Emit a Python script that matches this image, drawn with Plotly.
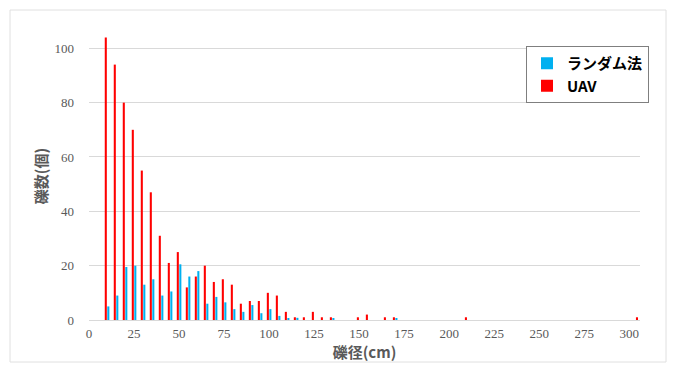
import plotly.graph_objects as go

# grain size classes (cm)
x_red = [10, 15, 20, 25, 30, 35, 40, 45, 50, 55, 60, 65, 70, 75, 80, 85, 90, 95, 100, 105,
         110, 115, 120, 125, 130, 135, 150, 155, 165, 170, 210, 305]
uav = [104, 94, 80, 70, 55, 47, 31, 21, 25, 12, 16, 20, 14, 15, 13, 6, 7, 7, 10, 9,
       3, 1, 1, 3, 1, 1, 1, 2, 1, 1, 1, 1]

x_blue = [10, 15, 20, 25, 30, 35, 40, 45, 50, 55, 60, 65, 70, 75, 80, 85, 90, 95, 100, 105,
          110, 115, 135, 170]
random_method = [5, 9, 19.5, 20, 13, 15, 9, 10.5, 20.5, 16, 18, 6, 8.5, 6.5, 4, 3, 5.5, 2.5, 4, 1.5,
                 0.5, 0.8, 0.4, 0.4]

x_ticks = list(range(0, 301, 25))
y_ticks = list(range(0, 101, 20))

fig = go.Figure()
fig.add_trace(go.Bar(x=x_blue, y=random_method, name="ランダム法",
                     marker=dict(color="#00B0F0", line=dict(width=0)),
                     width=1.15, offset=0.15))
fig.add_trace(go.Bar(x=x_red, y=uav, name="UAV",
                     marker=dict(color="#FF0000", line=dict(width=0)),
                     width=1.15, offset=-1.25))

W, H = 673, 369
ml, mr, mt, mb = 89, 33, 32, 49
pw, ph = W - ml - mr, H - mt - mb
# outer frame in paper coords
x0 = (10 - ml) / pw
x1 = (666 - ml) / pw
y0 = (H - mb - 362) / ph
y1 = (H - mb - 10) / ph

fig.update_layout(
    width=W, height=H,
    margin=dict(l=ml, r=mr, t=mt, b=mb),
    paper_bgcolor="white", plot_bgcolor="white",
    barmode="overlay",
    showlegend=True,
    legend=dict(x=(526 - ml) / pw, y=(H - mb - 46) / ph, xanchor="left", yanchor="top",
                bgcolor="white", bordercolor="#7F7F7F", borderwidth=1,
                font=dict(family="Noto Sans CJK JP", size=15, color="#000000", weight="bold"),
                traceorder="normal", tracegroupgap=0, itemwidth=30,
                entrywidth=95),
    xaxis=dict(range=[0, 306], tickmode="array", tickvals=x_ticks,
               ticktext=[str(v) for v in x_ticks],
               showgrid=False, zeroline=False,
               showline=True, linecolor="#D9D9D9", linewidth=1,
               ticks="", ticklabelstandoff=1,
               tickfont=dict(family="Liberation Serif", size=13, color="#595959"),
               title=dict(text="礫径(cm)", standoff=4,
                          font=dict(family="Noto Sans CJK JP", size=15, color="#595959",
                                    weight="bold"))),
    yaxis=dict(range=[0, 106], tickmode="array", tickvals=y_ticks,
               showgrid=True, gridcolor="#D9D9D9", gridwidth=1, zeroline=False,
               showline=False, ticks="", ticklabelstandoff=14,
               tickfont=dict(family="Liberation Serif", size=13, color="#595959"),
               title=dict(text="礫数(個)", standoff=3,
                          font=dict(family="Noto Sans CJK JP", size=15, color="#595959",
                                    weight="bold"))),
    shapes=[dict(type="rect", xref="paper", yref="paper", x0=x0, x1=x1, y0=y0, y1=y1,
                 line=dict(color="#E0E0E0", width=1), fillcolor="rgba(0,0,0,0)", layer="below")],
)

fig.write_html("out.html", config={"displayModeBar": False},
               post_script="document.body.style.margin='0';")
